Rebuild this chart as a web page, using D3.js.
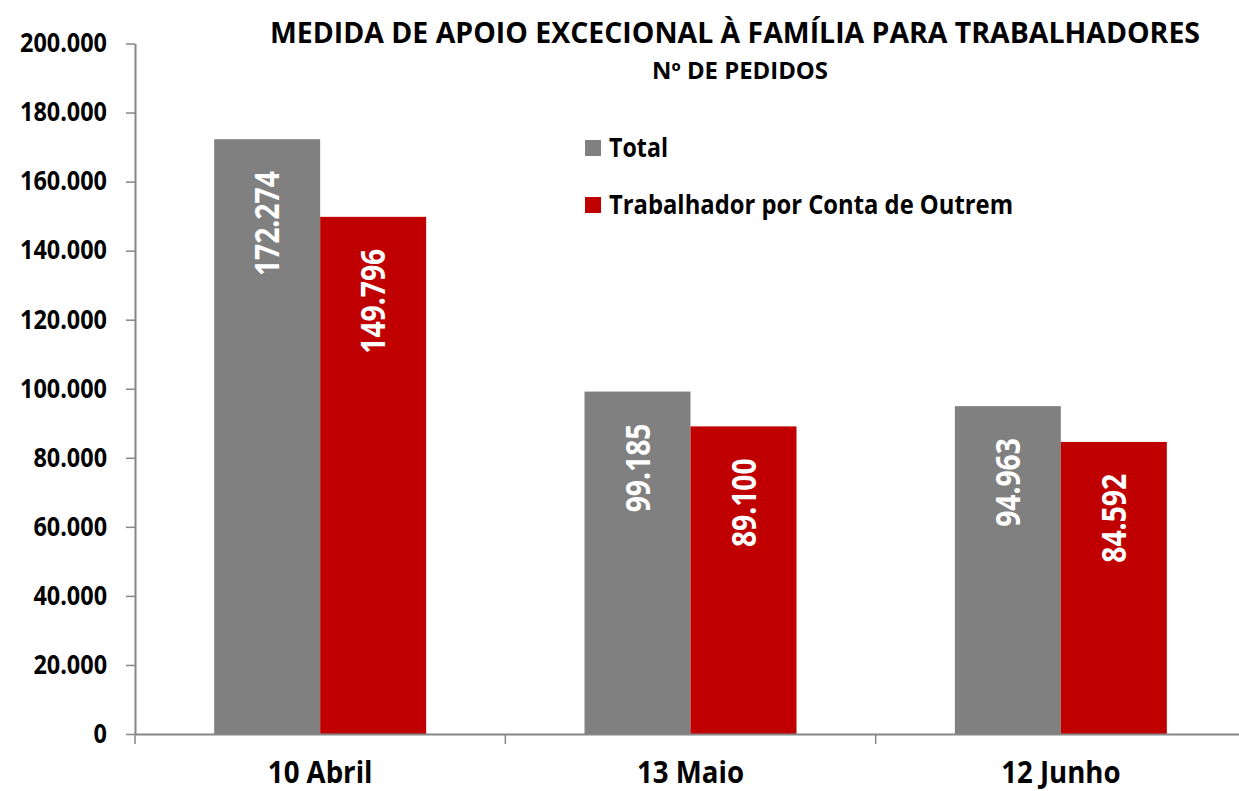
<!DOCTYPE html>
<html>
<head>
<meta charset="utf-8">
<script src="https://cdn.jsdelivr.net/npm/d3@7"></script>
<style>
  body { margin: 0; background: #fff; }
  text { font-family: "Open Sans", "Noto Sans", sans-serif; font-weight: bold; }
</style>
</head>
<body>
<div id="chart"></div>
<script>
// data
const categories = ["10 Abril", "13 Maio", "12 Junho"];
const seriesNames = ["Total", "Trabalhador por Conta de Outrem"];
const totalValues = [172274, 99185, 94963];
const outremValues = [149796, 89100, 84592];
const yTicks = [0, 20000, 40000, 60000, 80000, 100000, 120000, 140000, 160000, 180000, 200000];

const grey = "#808080";
const red = "#c00000";
const axisGrey = "#868686";
const colors = [grey, red];

const width = 1239;
const height = 791;
const marginLeft = 135;
const plotRight = 1246; // the axis runs off the right edge in the original
const yBottom = 734;
const yTop = 43.5;

// Portuguese number format: 172.274
const pt = d3.formatLocale({ decimal: ",", thousands: ".", grouping: [3], currency: ["", ""] });
const fmt = pt.format(",d");

const rows = categories.map((c, i) => ({ cat: c, values: [totalValues[i], outremValues[i]] }));

const x0 = d3.scaleBand()
  .domain(categories)
  .range([marginLeft, plotRight]);

const x1 = d3.scaleBand()
  .domain(d3.range(seriesNames.length))
  .range([0, x0.bandwidth()])
  .paddingInner(0)
  .paddingOuter(0.747);

const y = d3.scaleLinear()
  .domain([0, 200000])
  .range([yBottom, yTop]);

const svg = d3.select("#chart").append("svg")
  .attr("width", width)
  .attr("height", height);

// squeeze text horizontally so it looks like the narrow original face
function squeeze(sel, k) {
  sel.each(function () {
    const w = this.getComputedTextLength();
    d3.select(this).attr("textLength", w * k).attr("lengthAdjust", "spacingAndGlyphs");
  });
}

// bars
const groups = svg.append("g").selectAll("g")
  .data(rows)
  .join("g")
  .attr("transform", d => `translate(${x0(d.cat)},0)`);

groups.selectAll("rect")
  .data(d => d.values.map((v, k) => ({ k, v })))
  .join("rect")
  .attr("x", d => x1(d.k))
  .attr("y", d => y(d.v))
  .attr("width", x1.bandwidth())
  .attr("height", d => y(0) - y(d.v))
  .attr("fill", d => colors[d.k]);

// value labels, rotated, near the top of each bar
groups.selectAll("text.val")
  .data(d => d.values.map((v, k) => ({ k, v })))
  .join("text")
  .attr("class", "val")
  .attr("transform", d => `translate(${x1(d.k) + x1.bandwidth() / 2},${y(d.v) + 32}) rotate(-90)`)
  .attr("text-anchor", "end")
  .attr("dy", "0.36em")
  .attr("fill", "#fff")
  .style("font-size", "34px")
  .text(d => fmt(d.v))
  .call(squeeze, 0.83);

// y axis
const yAxis = svg.append("g")
  .attr("transform", `translate(${marginLeft},0)`)
  .call(d3.axisLeft(y).tickValues(yTicks).tickFormat(fmt).tickSize(9).tickSizeOuter(0).tickPadding(19));
yAxis.select(".domain").attr("stroke", axisGrey).attr("stroke-width", 2);
yAxis.selectAll(".tick line").attr("stroke", axisGrey).attr("stroke-width", 1.5);
yAxis.selectAll(".tick text")
  .attr("fill", "#000")
  .style("font-size", "26px")
  .style("font-family", "'Open Sans', sans-serif")
  .style("font-weight", "bold")
  .call(squeeze, 0.9);

// x axis: line, boundary ticks, centred labels
const xAxis = svg.append("g")
  .attr("transform", `translate(0,${yBottom})`)
  .call(d3.axisBottom(x0).tickSize(0).tickSizeOuter(0).tickPadding(28));
xAxis.select(".domain").attr("stroke", axisGrey).attr("stroke-width", 2);
xAxis.selectAll(".tick text")
  .attr("fill", "#000")
  .style("font-size", "30px")
  .style("font-family", "'Open Sans', sans-serif")
  .style("font-weight", "bold")
  .call(squeeze, 0.92);

const bounds = categories.map(c => x0(c)).concat([x0(categories[categories.length - 1]) + x0.bandwidth()]);
xAxis.selectAll("line.bound")
  .data(bounds)
  .join("line")
  .attr("class", "bound")
  .attr("x1", d => d).attr("x2", d => d)
  .attr("y1", 0).attr("y2", 10)
  .attr("stroke", axisGrey)
  .attr("stroke-width", 1.5);

// titles
svg.append("text")
  .attr("x", 735).attr("y", 43)
  .attr("text-anchor", "middle")
  .attr("textLength", 930)
  .attr("lengthAdjust", "spacingAndGlyphs")
  .style("font-size", "29px")
  .text("MEDIDA DE APOIO EXCECIONAL À FAMÍLIA PARA TRABALHADORES");

svg.append("text")
  .attr("x", 740).attr("y", 79)
  .attr("text-anchor", "middle")
  .attr("textLength", 176)
  .attr("lengthAdjust", "spacingAndGlyphs")
  .style("font-size", "23px")
  .text("Nº DE PEDIDOS");

// legend
const legend = svg.append("g").attr("transform", "translate(585,140)");
const legendItems = legend.selectAll("g")
  .data(seriesNames)
  .join("g")
  .attr("transform", (d, i) => `translate(0,${i * 57})`);
legendItems.append("rect")
  .attr("width", 16).attr("height", 16)
  .attr("fill", (d, i) => colors[i]);
legendItems.append("text")
  .attr("x", 24).attr("y", 17)
  .attr("textLength", (d, i) => i === 0 ? 59 : 404)
  .attr("lengthAdjust", "spacingAndGlyphs")
  .style("font-size", "27px")
  .text(d => d);
</script>
</body>
</html>
